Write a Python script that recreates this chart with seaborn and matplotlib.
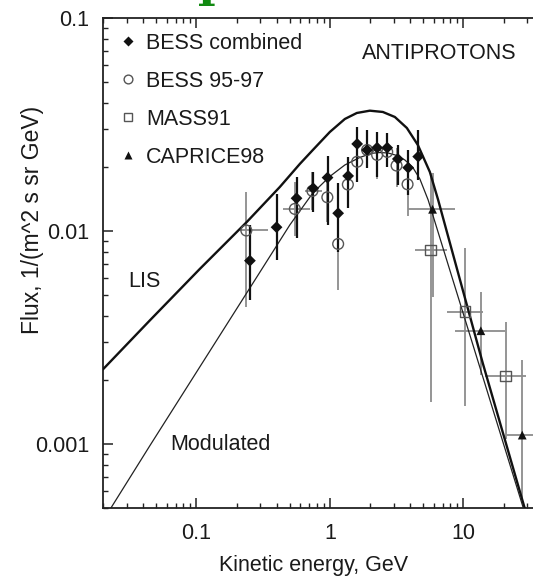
import matplotlib
matplotlib.use("Agg")
import matplotlib.pyplot as plt
import numpy as np
import pandas as pd
import seaborn as sns
from matplotlib.lines import Line2D
from matplotlib.ticker import LogLocator, NullFormatter, FixedLocator, FixedFormatter

# ---------------- data ----------------
# LIS curve (thick)
lis_E = [0.02, 0.04484, 0.1062, 0.2388, 0.4222, 0.5960, 0.7459, 1.0, 1.2955, 1.593,
         1.994, 2.495, 3.069, 3.774, 4.563, 5.612, 6.475, 14.0, 30.52]
lis_F = [0.00224, 0.00380, 0.006632, 0.01102, 0.01609, 0.02064, 0.02400, 0.02916, 0.03356, 0.03581,
         0.03671, 0.03620, 0.03429, 0.03045, 0.02533, 0.01892, 0.01398, 0.002385, 0.000440]

# Modulated curve (thin)
mod_E = [0.02, 0.04484, 0.1062, 0.2516, 0.5015, 0.7459, 1.0, 1.2955, 1.678, 2.064,
         2.369, 2.720, 3.177, 3.646, 4.185, 4.724, 5.449, 29.95]
mod_F = [0.000436, 0.000980, 0.002299, 0.005394, 0.01067, 0.01508, 0.01803, 0.02041, 0.02214, 0.02316,
         0.02334, 0.02324, 0.02262, 0.02154, 0.01986, 0.01754, 0.01398, 0.000440]

# BESS combined (filled diamonds)
bc_E = [0.252, 0.399, 0.563, 0.750, 0.961, 1.154, 1.371, 1.602, 1.902, 2.26, 2.69, 3.23, 3.86, 4.59]
bc_F = [0.00725, 0.01041, 0.01424, 0.01587, 0.01780, 0.01211, 0.01813, 0.02562, 0.0240, 0.0246,
        0.0246, 0.02178, 0.01982, 0.02234]
bc_lo = [0.00474, 0.00731, 0.00927, 0.01233, 0.01067, 0.0080, 0.0128, 0.01704, 0.0197, 0.0180,
         0.02004, 0.01644, 0.01476, 0.01735]
bc_hi = [0.01067, 0.01493, 0.01799, 0.01898, 0.02249, 0.0168, 0.02234, 0.0309, 0.02978, 0.0290,
         0.0287, 0.02535, 0.02399, 0.02978]

# BESS 95-97 (open circles)
b9_E = [0.2368, 0.547, 0.740, 0.958, 1.154, 1.364, 1.602, 1.902, 2.26, 2.69, 3.16, 3.82]
b9_F = [0.01005, 0.01269, 0.01542, 0.01439, 0.00869, 0.01652, 0.02113, 0.0240, 0.02275, 0.0235,
        0.02028, 0.01656]
b9_lo = [0.0044, 0.0095, 0.0125, 0.0110, 0.0053, 0.0130, 0.0170, 0.0200, 0.0175, 0.0200, 0.0160, 0.0117]
b9_hi = [0.0152, 0.0170, 0.0190, 0.0185, 0.0120, 0.0200, 0.0245, 0.0280, 0.0270, 0.0275, 0.0245, 0.0200]
b9_Elo = [0.212, 0.447, 0.650, 0.958, 1.154, 1.364, 1.602, 1.902, 2.26, 2.69, 3.16, 3.82]
b9_Ehi = [0.343, 0.708, 0.871, 0.958, 1.154, 1.364, 1.602, 1.902, 2.26, 2.69, 3.16, 3.82]

# MASS91 (open squares)
m_E = [5.68, 10.26, 20.7]
m_F = [0.00815, 0.00418, 0.00209]
m_Elo = [4.33, 7.48, 14.5]
m_Ehi = [7.48, 14.07, 29.7]
m_lo = [0.00157, 0.0015, 0.00105]
m_hi = [0.0187, 0.00832, 0.00375]

# CAPRICE98 (filled triangles)
c_E = [5.88, 13.52, 27.6]
c_F = [0.01264, 0.0034, 0.0011]
c_Elo = [3.86, 8.63, 21.07]
c_Ehi = [8.63, 20.46, 40.0]
c_lo = [0.0049, 0.00211, 0.000546]
c_hi = [0.0187, 0.00519, 0.00248]

x_ticks = [0.1, 1, 10]
x_ticklabels = ["0.1", "1", "10"]
y_ticks = [0.001, 0.01, 0.1]
y_ticklabels = ["0.001", "0.01", "0.1"]

# ---------------- style ----------------
sns.set_theme(style="ticks")
plt.rcParams['font.family'] = ['Liberation Sans', 'DejaVu Sans']
TXT = "#1a1a1a"
FS = 15.5

fig = plt.figure(figsize=(5.33, 5.76), dpi=100)
fig.patch.set_facecolor("white")
ax = fig.add_axes([103 / 533, 68 / 576, 433 / 533, 490 / 576])
ax.set_facecolor("white")
ax.set_xscale("log")
ax.set_yscale("log")
ax.set_xlim(0.02, 35)
ax.set_ylim(5e-4, 0.1)

# curves
sns.lineplot(data=pd.DataFrame({"E": lis_E, "F": lis_F}), x="E", y="F", ax=ax,
             sort=False, estimator=None, color="#111111", lw=1.7, zorder=3)
sns.lineplot(data=pd.DataFrame({"E": mod_E, "F": mod_F}), x="E", y="F", ax=ax,
             sort=False, estimator=None, color="#222222", lw=0.9, zorder=3)

GRAY = "#8c8c8c"

def asym(v, lo, hi):
    v = np.asarray(v); lo = np.asarray(lo); hi = np.asarray(hi)
    return [v - lo, hi - v]

# error bars
ax.errorbar(b9_E, b9_F, yerr=asym(b9_F, b9_lo, b9_hi), xerr=asym(b9_E, b9_Elo, b9_Ehi),
            fmt="none", ecolor=GRAY, elinewidth=1.3, capsize=0, zorder=2)
ax.errorbar(m_E, m_F, yerr=asym(m_F, m_lo, m_hi), xerr=asym(m_E, m_Elo, m_Ehi),
            fmt="none", ecolor=GRAY, elinewidth=1.3, capsize=0, zorder=2)
ax.errorbar(c_E, c_F, yerr=asym(c_F, c_lo, c_hi), xerr=asym(c_E, c_Elo, c_Ehi),
            fmt="none", ecolor=GRAY, elinewidth=1.3, capsize=0, zorder=2)
ax.errorbar(bc_E, bc_F, yerr=asym(bc_F, bc_lo, bc_hi),
            fmt="none", ecolor="#111111", elinewidth=1.6, capsize=0, zorder=4)

# markers
sns.scatterplot(x=b9_E, y=b9_F, ax=ax, marker="o", s=60, facecolor="none",
                edgecolor="#555555", linewidth=1.0, zorder=5)
sns.scatterplot(x=m_E, y=m_F, ax=ax, marker="s", s=55, facecolor="none",
                edgecolor="#555555", linewidth=1.0, zorder=5)
sns.scatterplot(x=c_E, y=c_F, ax=ax, marker="^", s=40, color="#111111",
                edgecolor="none", zorder=5)
sns.scatterplot(x=bc_E, y=bc_F, ax=ax, marker="D", s=36, color="#111111",
                edgecolor="none", zorder=6)

# axes styling
for sp in ax.spines.values():
    sp.set_linewidth(1.3)
    sp.set_color("#222222")
ax.spines["right"].set_visible(False)
ax.xaxis.set_major_locator(FixedLocator(x_ticks))
ax.xaxis.set_major_formatter(FixedFormatter(x_ticklabels))
ax.yaxis.set_major_locator(FixedLocator(y_ticks))
ax.yaxis.set_major_formatter(FixedFormatter(y_ticklabels))
ax.xaxis.set_minor_locator(LogLocator(base=10, subs=np.arange(2, 10)))
ax.yaxis.set_minor_locator(LogLocator(base=10, subs=np.arange(2, 10)))
ax.xaxis.set_minor_formatter(NullFormatter())
ax.yaxis.set_minor_formatter(NullFormatter())
ax.tick_params(which="both", direction="in", top=True, right=False,
               colors="#222222", labelcolor=TXT, labelsize=FS)
ax.tick_params(which="major", length=7.5, width=1.1)
ax.tick_params(which="minor", length=3.8, width=1.0)
ax.tick_params(axis="x", which="major", pad=11)
ax.tick_params(axis="y", which="major", pad=10)

ax.set_xlabel("Kinetic energy, GeV", fontsize=FS, color=TXT)
ax.xaxis.set_label_coords(0.487, -0.096)
ax.set_ylabel("Flux, 1/(m^2 s sr GeV)", fontsize=16.5, color=TXT)
ax.yaxis.set_label_coords(-0.136, 0.588)

# annotations
ax.text(0.598, 0.927, "ANTIPROTONS", transform=ax.transAxes, fontsize=FS,
        color=TXT, ha="left", va="center")
ax.text(0.0577, 0.462, "LIS", transform=ax.transAxes, fontsize=FS,
        color=TXT, ha="left", va="center")
ax.text(0.155, 0.129, "Modulated", transform=ax.transAxes, fontsize=FS,
        color=TXT, ha="left", va="center")

# legend
handles = [
    Line2D([], [], ls="none", marker="D", ms=4.6, color="#111111", mec="none"),
    Line2D([], [], ls="none", marker="o", ms=6.3, mfc="none", mec="#555555", mew=1.0),
    Line2D([], [], ls="none", marker="s", ms=6, mfc="none", mec="#555555", mew=1.0),
    Line2D([], [], ls="none", marker="^", ms=5.5, color="#111111", mec="none"),
]
labels = ["BESS combined", "BESS 95-97", "MASS91", "CAPRICE98"]
leg = ax.legend(handles, labels, loc="upper left",
                bbox_to_anchor=((117.7 - 103) / 433, (508 - 33) / 490),
                frameon=False, fontsize=FS, borderaxespad=0, borderpad=0,
                handlelength=1.0, handletextpad=0.32, labelspacing=0.79)
for t in leg.get_texts():
    t.set_color(TXT)

# partially visible green glyph at the top edge
fig.text(0.387, 1 - 6 / 576, "I", fontsize=30, family="DejaVu Serif",
         fontweight="bold", color="#118a11", ha="center", va="baseline")

fig.savefig("out.png", dpi=100, facecolor="white")
